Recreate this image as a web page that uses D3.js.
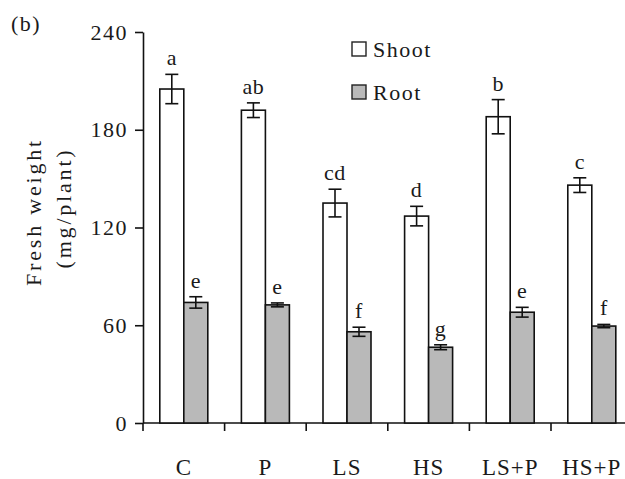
<!DOCTYPE html>
<html>
<head>
<meta charset="utf-8">
<script src="https://cdn.jsdelivr.net/npm/d3@7"></script>
<style>
  html, body { margin: 0; padding: 0; background: #fff; }
  svg { display: block; }
  text { font-family: "Liberation Serif", "Times New Roman", serif; fill: #1a1a1a; }
</style>
</head>
<body>
<svg id="chart" width="625" height="479"></svg>
<script>
// ---- data ----
const categories = ["C", "P", "LS", "HS", "LS+P", "HS+P"];
const seriesNames = ["Shoot", "Root"];
const shootValues = [205, 192, 135, 127, 188, 146];
const shootErrors = [9, 4.5, 8.5, 6, 10.5, 4.5];
const shootLetters = ["a", "ab", "cd", "d", "b", "c"];
const rootValues = [74, 72.5, 56, 46.5, 68, 59.5];
const rootErrors = [3.5, 1.2, 2.8, 1.5, 3, 1];
const rootLetters = ["e", "e", "f", "g", "e", "f"];
const yTicks = [0, 60, 120, 180, 240];
const panelLabel = "(b)";
const yLabel1 = "Fresh weight";
const yLabel2 = "(mg/plant)";

const svg = d3.select("#chart");
const W = 625, H = 479;
const x0 = 143, yBottom = 423, yTop = 32;

const x = d3.scaleBand().domain(categories).range([x0, 632.6]).paddingInner(0).paddingOuter(0);
const y = d3.scaleLinear().domain([0, 240]).range([yBottom, yTop]);
const barW = 24;
const fills = { Shoot: "#ffffff", Root: "#b9b9b9" };

// axes
const yAxis = d3.axisLeft(y).tickValues(yTicks).tickSize(8).tickSizeOuter(0).tickPadding(7);
const gy = svg.append("g").attr("transform", `translate(${x0},0)`).call(yAxis);
gy.select(".domain").attr("stroke", "#111").attr("stroke-width", 1.6);
gy.selectAll(".tick line").attr("stroke", "#111").attr("stroke-width", 1.6);
gy.selectAll(".tick text").attr("font-size", 22).attr("letter-spacing", 1.5)
  .style("font-family", "'Liberation Serif', serif").attr("fill", "#1a1a1a");

const xAxisLine = svg.append("g");
xAxisLine.append("line").attr("x1", x0).attr("x2", W).attr("y1", yBottom).attr("y2", yBottom)
  .attr("stroke", "#111").attr("stroke-width", 1.6);
// boundary ticks
const bounds = categories.map(c => x(c));
xAxisLine.selectAll("line.tk").data(bounds).enter().append("line").attr("class", "tk")
  .attr("x1", d => d).attr("x2", d => d).attr("y1", yBottom).attr("y2", yBottom + 8)
  .attr("stroke", "#111").attr("stroke-width", 1.6);
xAxisLine.selectAll("text.xl").data(categories).enter().append("text").attr("class", "xl")
  .attr("x", d => x(d) + x.bandwidth() / 2).attr("y", 475)
  .attr("text-anchor", "middle").attr("font-size", 23).attr("letter-spacing", 1)
  .text(d => d);

// bars
const rows = [];
categories.forEach((c, i) => {
  rows.push({ cat: c, s: "Shoot", v: shootValues[i], e: shootErrors[i], l: shootLetters[i], off: -barW });
  rows.push({ cat: c, s: "Root", v: rootValues[i], e: rootErrors[i], l: rootLetters[i], off: 0 });
});
const cx = d => x(d.cat) + x.bandwidth() / 2 + d.off;

svg.append("g").selectAll("rect").data(rows).enter().append("rect")
  .attr("x", d => cx(d)).attr("width", barW)
  .attr("y", d => y(d.v)).attr("height", d => y(0) - y(d.v))
  .attr("fill", d => fills[d.s]).attr("stroke", "#111").attr("stroke-width", 1.6);

// error bars
const eg = svg.append("g").attr("stroke", "#111").attr("stroke-width", 1.6);
rows.forEach(d => {
  const mx = cx(d) + barW / 2;
  eg.append("line").attr("x1", mx).attr("x2", mx).attr("y1", y(d.v + d.e)).attr("y2", y(d.v - d.e));
  eg.append("line").attr("x1", mx - 6.5).attr("x2", mx + 6.5).attr("y1", y(d.v + d.e)).attr("y2", y(d.v + d.e));
  eg.append("line").attr("x1", mx - 6.5).attr("x2", mx + 6.5).attr("y1", y(d.v - d.e)).attr("y2", y(d.v - d.e));
});

// letters
svg.append("g").selectAll("text").data(rows).enter().append("text")
  .attr("x", d => cx(d) + barW / 2).attr("y", d => y(d.v + d.e) - 9)
  .attr("text-anchor", "middle").attr("font-size", 22).attr("letter-spacing", 0.5)
  .text(d => d.l);

// legend
const lg = svg.append("g");
seriesNames.forEach((s, i) => {
  lg.append("rect").attr("x", 352).attr("y", 42 + i * 43).attr("width", 14).attr("height", 14)
    .attr("fill", fills[s]).attr("stroke", "#222").attr("stroke-width", 1.4);
  lg.append("text").attr("x", 373).attr("y", 57 + i * 43).attr("font-size", 22)
    .attr("letter-spacing", 1.5).text(s);
});

// panel label
svg.append("text").attr("x", 11).attr("y", 31).attr("font-size", 22).attr("letter-spacing", 1.5).text(panelLabel);

// y labels
svg.append("text").attr("transform", "translate(41,212) rotate(-90)").attr("text-anchor", "middle")
  .attr("font-size", 22).attr("letter-spacing", 2.8).text(yLabel1);
svg.append("text").attr("transform", "translate(71,208) rotate(-90)").attr("text-anchor", "middle")
  .attr("font-size", 22).attr("letter-spacing", 2.8).text(yLabel2);
</script>
</body>
</html>
